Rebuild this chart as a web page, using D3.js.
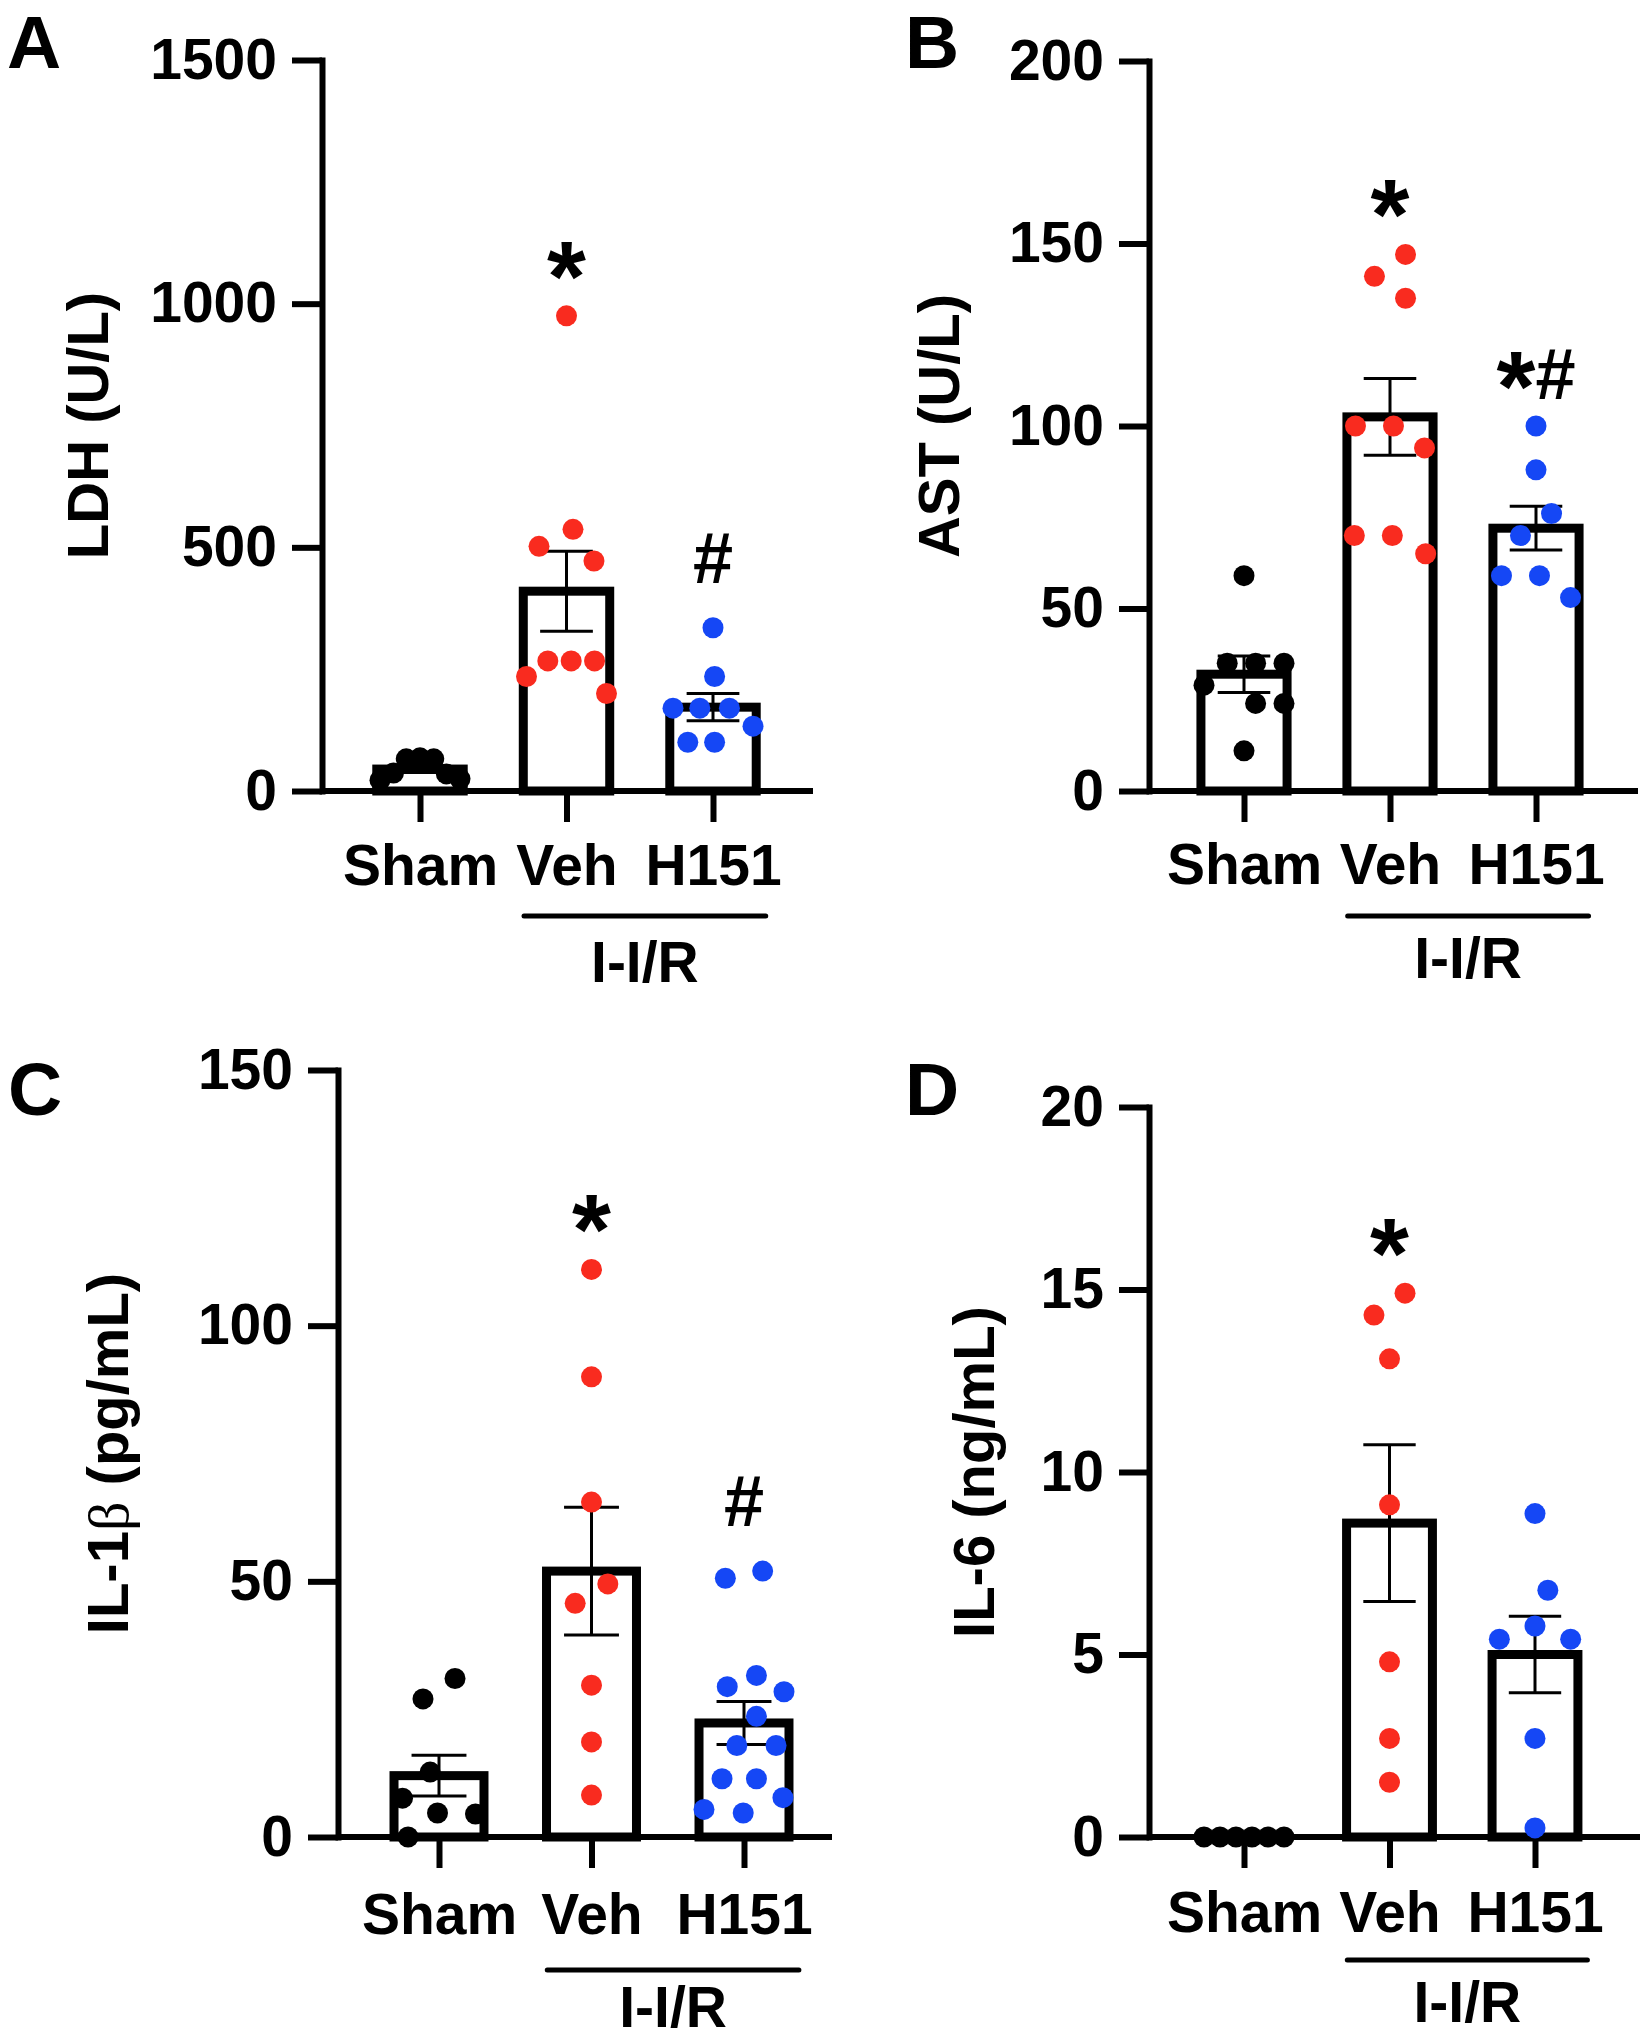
<!DOCTYPE html>
<html><head><meta charset="utf-8">
<script src="https://cdn.jsdelivr.net/npm/d3@7"></script>
<style>body{margin:0;background:#fff}</style>
</head><body>
<svg id="chart" width="1640" height="2040"></svg>
<script>
// ---------------- DATA ----------------
const groups = ["Sham", "Veh", "H151"];
const groupColors = ["#000000", "#f92b1f", "#1547f5"];

// A: LDH (U/L)
const ldhSham = [68, 66, 66, 37, 35, 25, 22];
const ldhVeh = [975, 537, 502, 472, 267, 267, 267, 235, 200];
const ldhH151 = [335, 235, 170, 170, 170, 133, 100, 100];
const ldhMean = [45, 410, 172];
const ldhSem = [7, 82, 28];
const ldhTicks = [0, 500, 1000, 1500];
const ldhMarks = ["", "*", "#"];

// B: AST (U/L)
const astSham = [59, 35, 35, 35, 29, 24, 24, 11];
const astVeh = [147, 141, 135, 100, 100, 94, 70, 70, 65];
const astH151 = [100, 88, 76, 70, 59, 59, 53];
const astMean = [32, 102.5, 72];
const astSem = [5, 10.5, 6];
const astTicks = [0, 50, 100, 150, 200];
const astMarks = ["", "*", "*#"];

// C: IL-1beta (pg/mL)
const il1bSham = [31, 27, 12.7, 7.6, 4.7, 4.5, 0];
const il1bVeh = [111, 90, 65.5, 49.5, 45.7, 29.7, 18.6, 8.2];
const il1bH151 = [52, 50.6, 31.6, 29.4, 28.4, 23.6, 17.9, 17.9, 11.4, 11.4, 7.7, 5.4, 4.7];
const il1bMean = [12, 52, 22.3];
const il1bSem = [4, 12.5, 4.2];
const il1bTicks = [0, 50, 100, 150];
const il1bMarks = ["", "*", "#"];

// D: IL-6 (ng/mL)
const il6Sham = [0, 0, 0, 0, 0, 0];
const il6Veh = [14.9, 14.3, 13.1, 9.1, 4.8, 2.7, 1.5];
const il6H151 = [8.86, 6.76, 5.78, 5.42, 5.42, 2.7, 0.25];
const il6Mean = [0, 8.6, 5.0];
const il6Sem = [0, 2.15, 1.05];
const il6Ticks = [0, 5, 10, 15, 20];
const il6Marks = ["", "*", ""];

const groupLabel = "I-I/R";

// ---------------- LAYOUT ----------------
const FONT = '"Liberation Sans", Arial, Helvetica, sans-serif';
const panels = [
  {letter: "A", label: [["LDH (U/L)", false]], pts: [ldhSham, ldhVeh, ldhH151], mean: ldhMean, sem: ldhSem, ticks: ldhTicks, marks: ldhMarks,
   L: {axisX: 322, axisEnd: 813, xFirst: 420, xLast: 713, yTop: 60, yZero: 791, labelX: 108, letterX: 7, letterY: 68, catY: 885, lineY: 916, grpY: 982}},
  {letter: "B", label: [["AST (U/L)", false]], pts: [astSham, astVeh, astH151], mean: astMean, sem: astSem, ticks: astTicks, marks: astMarks,
   L: {axisX: 1149, axisEnd: 1638, xFirst: 1244, xLast: 1536, yTop: 61, yZero: 791, labelX: 959, letterX: 905, letterY: 68, catY: 884, lineY: 916, grpY: 978}},
  {letter: "C", label: [["IL-1", false], ["\u03B2", true], [" (pg/mL)", false]], pts: [il1bSham, il1bVeh, il1bH151], mean: il1bMean, sem: il1bSem, ticks: il1bTicks, marks: il1bMarks,
   L: {axisX: 338, axisEnd: 832, xFirst: 439, xLast: 744, yTop: 1070, yZero: 1837, labelX: 128, letterX: 8, letterY: 1115, catY: 1934, lineY: 1970, grpY: 2027}},
  {letter: "D", label: [["IL-6 (ng/mL)", false]], pts: [il6Sham, il6Veh, il6H151], mean: il6Mean, sem: il6Sem, ticks: il6Ticks, marks: il6Marks,
   L: {axisX: 1149, axisEnd: 1640, xFirst: 1244, xLast: 1535, yTop: 1107, yZero: 1837, labelX: 994, letterX: 905, letterY: 1115, catY: 1932, lineY: 1960, grpY: 2022}}
];

const DOT_R = 10.5, COLL = 38, MAX_HALF = 40, AXIS_W = 6, BAR_W = 9;

// beeswarm: clusters of vertically close points are spread sideways, centred, and squeezed to fit the bar
function swarm(values, yPix, D, maxHalf) {
  const idx = values.map((v, i) => i).sort((a, b) => values[b] - values[a]);
  const off = new Array(values.length).fill(0);
  const clusters = [];
  let cur = [];
  idx.forEach((i, k) => {
    if (k > 0 && Math.abs(yPix(values[i]) - yPix(values[idx[k - 1]])) >= D) { clusters.push(cur); cur = []; }
    cur.push(i);
  });
  clusters.push(cur);
  clusters.forEach(cl => {
    const placed = [];
    cl.forEach(i => {
      const y = yPix(values[i]);
      const near = placed.filter(p => Math.abs(p.y - y) < D);
      const cands = [0];
      near.forEach(p => { const dx = Math.sqrt(D * D - (p.y - y) ** 2); cands.push(p.x - dx, p.x + dx); });
      cands.sort((a, b) => Math.abs(a) - Math.abs(b) || a - b);
      let best = cands.find(c => near.every(p => (p.x - c) ** 2 + (p.y - y) ** 2 >= D * D - 0.01));
      if (best === undefined) best = 0;
      placed.push({x: best, y});
      off[i] = best;
    });
    const xs = cl.map(i => off[i]);
    const c = (d3.min(xs) + d3.max(xs)) / 2;
    const half = d3.max(xs, o => Math.abs(o - c));
    const s = half > maxHalf ? maxHalf / half : 1;
    cl.forEach(i => { off[i] = (off[i] - c) * s; });
  });
  return off;
}

const svg = d3.select("#chart");
svg.append("rect").attr("width", 1640).attr("height", 2040).attr("fill", "#fff");

panels.forEach(P => {
  const L = P.L;
  const g = svg.append("g");
  const y = d3.scaleLinear().domain([0, d3.max(P.ticks)]).range([L.yZero, L.yTop]);
  const x = d3.scalePoint().domain(groups).range([L.xFirst, L.xLast]);
  const step = (L.xLast - L.xFirst) / (groups.length - 1);
  const bw = step * 0.59;
  const capHalf = step * 0.18;

  // Y axis
  const ya = g.append("g").attr("transform", `translate(${L.axisX},0)`)
    .call(d3.axisLeft(y).tickValues(P.ticks).tickSize(30).tickSizeOuter(0).tickPadding(15).tickFormat(d3.format("d")));
  ya.attr("font-size", 57).attr("font-family", FONT).attr("font-weight", "bold");
  ya.selectAll("line").attr("stroke", "#000").attr("stroke-width", AXIS_W);
  ya.select(".domain").attr("stroke", "#000").attr("stroke-width", AXIS_W).attr("stroke-linecap", "square");
  ya.selectAll("text").attr("fill", "#000");

  // X axis line
  g.append("line").attr("x1", L.axisX).attr("x2", L.axisEnd).attr("y1", L.yZero).attr("y2", L.yZero)
    .attr("stroke", "#000").attr("stroke-width", AXIS_W);
  const xa = g.append("g").attr("transform", `translate(0,${L.yZero})`)
    .call(d3.axisBottom(x).tickSize(31).tickSizeOuter(0));
  xa.select(".domain").remove();
  xa.attr("font-size", 57).attr("font-family", FONT).attr("font-weight", "bold");
  xa.selectAll("line").attr("stroke", "#000").attr("stroke-width", AXIS_W);
  xa.selectAll("text").attr("fill", "#000").attr("dy", null).attr("y", L.catY - L.yZero);

  // Bars
  g.selectAll("rect.bar").data(groups).join("rect").attr("class", "bar")
    .attr("x", d => x(d) - bw / 2).attr("width", bw)
    .attr("y", (d, i) => y(P.mean[i])).attr("height", (d, i) => L.yZero - y(P.mean[i]))
    .attr("fill", "#fff").attr("stroke", "#000").attr("stroke-width", BAR_W);

  // Error bars (mean ± SEM)
  groups.forEach((gr, i) => {
    if (P.sem[i] <= 0) return;
    const cx = x(gr), lo = y(P.mean[i] - P.sem[i]), hi = y(P.mean[i] + P.sem[i]);
    const eb = g.append("g").attr("stroke", "#000").attr("stroke-width", 3);
    eb.append("line").attr("x1", cx).attr("x2", cx).attr("y1", lo).attr("y2", hi);
    eb.append("line").attr("x1", cx - capHalf).attr("x2", cx + capHalf).attr("y1", hi).attr("y2", hi);
    eb.append("line").attr("x1", cx - capHalf).attr("x2", cx + capHalf).attr("y1", lo).attr("y2", lo);
  });

  // Dots
  groups.forEach((gr, i) => {
    const vals = P.pts[i];
    const off = swarm(vals, y, COLL, MAX_HALF);
    g.append("g").selectAll("circle").data(vals).join("circle")
      .attr("cx", (d, k) => x(gr) + off[k]).attr("cy", d => y(d)).attr("r", DOT_R)
      .attr("fill", groupColors[i]);
  });

  // Significance marks
  groups.forEach((gr, i) => {
    const m = P.marks[i];
    if (!m) return;
    const top = y(d3.max(P.pts[i]));
    const t = g.append("text").attr("x", x(gr)).attr("text-anchor", "middle")
      .attr("font-family", FONT).attr("font-weight", "bold").attr("fill", "#000");
    if (m === "*") {
      t.attr("y", top - 5).attr("font-size", 100).text("*");
    } else if (m === "#") {
      t.attr("y", top - 45).attr("font-size", 72).text("#");
    } else {
      t.attr("y", top - 5);
      t.append("tspan").attr("font-size", 100).text("*");
      t.append("tspan").attr("font-size", 72).attr("dy", -22).text("#");
    }
  });

  // Group line + label
  const gx1 = x("Veh") - step * 0.29, gx2 = x("H151") + step * 0.36;
  g.append("line").attr("x1", gx1).attr("x2", gx2).attr("y1", L.lineY).attr("y2", L.lineY)
    .attr("stroke", "#000").attr("stroke-width", 5).attr("stroke-linecap", "round");
  g.append("text").attr("x", (gx1 + gx2) / 2).attr("y", L.grpY).attr("text-anchor", "middle")
    .attr("font-family", FONT).attr("font-weight", "bold").attr("font-size", 57).text(groupLabel);

  // Y label
  const yl = g.append("text")
    .attr("transform", `translate(${L.labelX},${(L.yTop + L.yZero) / 2}) rotate(-90)`)
    .attr("text-anchor", "middle").attr("font-family", FONT).attr("font-weight", "bold").attr("font-size", 58);
  P.label.forEach(([s, greek]) => {
    const ts = yl.append("tspan").text(s);
    if (greek) ts.attr("font-family", '"Liberation Serif", "DejaVu Serif", serif').attr("font-weight", "normal");
  });

  // Panel letter
  g.append("text").attr("x", L.letterX).attr("y", L.letterY)
    .attr("font-family", FONT).attr("font-weight", "bold").attr("font-size", 75).text(P.letter);
});
</script>
</body></html>
